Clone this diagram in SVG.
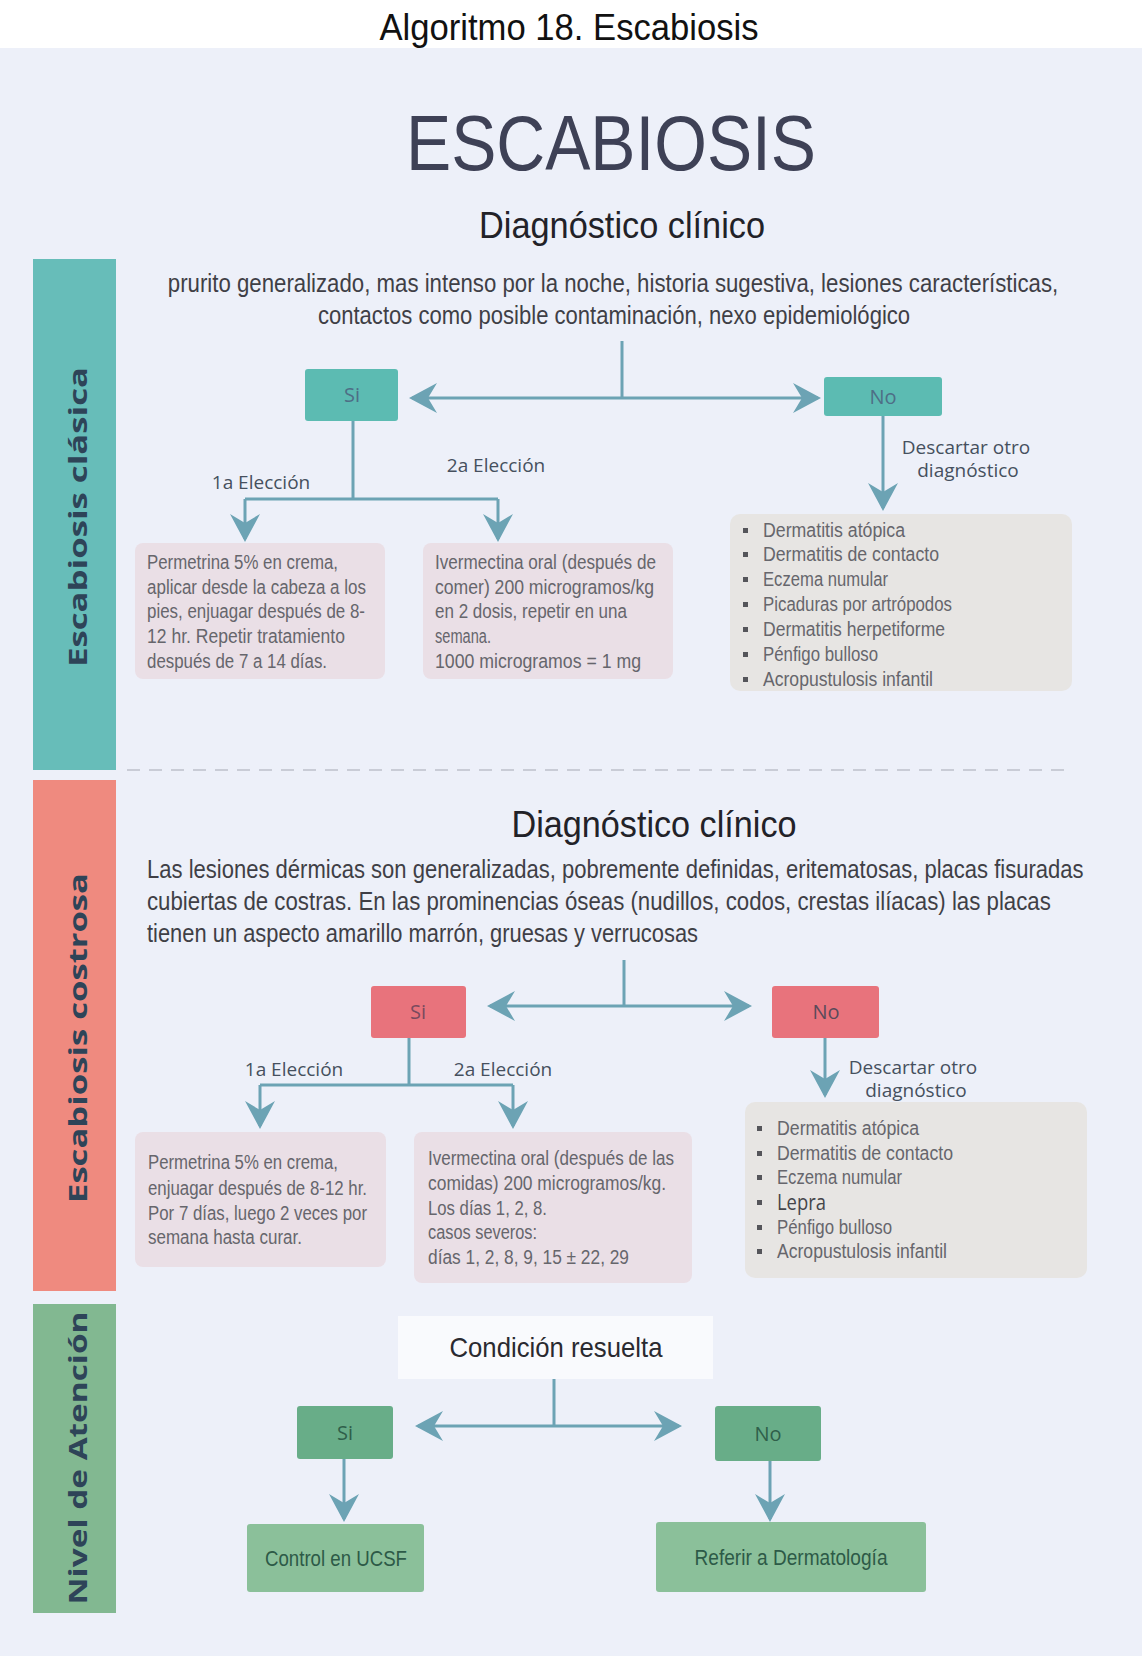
<svg xmlns="http://www.w3.org/2000/svg" width="1142" height="1663" viewBox="0 0 1142 1663">
<style>
.bg{fill:#EDF0F9}
.cond{font-family:"Liberation Sans",Arial,sans-serif}
.body{font-family:"Liberation Sans",Arial,sans-serif;font-size:20px;fill:#66666C}
.para{font-family:"Liberation Sans",Arial,sans-serif;font-size:25px;fill:#3F3F46}
.lbl{font-family:"Open Sans","Liberation Sans",sans-serif;font-size:19px;fill:#46505E;text-anchor:middle}
.side{font-family:"Open Sans","Liberation Sans",sans-serif;font-size:25px;font-weight:bold;fill:#2E4458;text-anchor:middle}
.yn{font-family:"Open Sans","Liberation Sans",sans-serif;font-size:20px;text-anchor:middle}
.conn{fill:none;stroke:#6CA3B4;stroke-width:3}
.tealbox{fill:#5CBBB2}
.pinkbox{fill:#E8737C}
.greenbox{fill:#68AD88}
.txtbox{fill:#EADFE6}
.graybox{fill:#E7E5E3}
.bul{fill:#55555A}
</style>
<defs>
<marker id="arr" viewBox="0 0 28 30" refX="25" refY="15" markerWidth="28" markerHeight="30" markerUnits="userSpaceOnUse" orient="auto-start-reverse">
<path d="M0,0 L28,15 L0,30 L9,15 Z" fill="#6CA3B4"/>
</marker>
</defs>
<rect x="0" y="0" width="1142" height="1663" fill="#FFFFFF"/>
<rect class="bg" x="0" y="48" width="1142" height="1608"/>
<text class="cond" x="569" y="40" font-size="36" fill="#111111" text-anchor="middle" textLength="379" lengthAdjust="spacingAndGlyphs">Algoritmo 18. Escabiosis</text>
<text class="cond" x="611" y="170" font-size="78" fill="#3E4156" text-anchor="middle" textLength="410" lengthAdjust="spacingAndGlyphs">ESCABIOSIS</text>

<g id="sidebar-clasica">
<rect x="33" y="259" width="83" height="511" fill="#67BDB9"/>
<text class="side" transform="translate(87,517) rotate(-90)" textLength="300" lengthAdjust="spacingAndGlyphs">Escabiosis clásica</text>
</g>
<g id="sidebar-costrosa">
<rect x="33" y="780" width="83" height="511" fill="#EF8A7F"/>
<text class="side" transform="translate(87,1038) rotate(-90)" textLength="330" lengthAdjust="spacingAndGlyphs">Escabiosis costrosa</text>
</g>
<g id="sidebar-nivel">
<rect x="33" y="1304" width="83" height="309" fill="#82B891"/>
<text class="side" transform="translate(87,1458) rotate(-90)" textLength="293" lengthAdjust="spacingAndGlyphs">Nivel de Atención</text>
</g>

<line x1="127" y1="770" x2="1065" y2="770" stroke="#C9CCD6" stroke-width="2" stroke-dasharray="13,9"/>

<g id="connectors">
<path class="conn" d="M622,341 V398"/>
<path class="conn" d="M622,398 H412" marker-end="url(#arr)"/>
<path class="conn" d="M622,398 H818" marker-end="url(#arr)"/>
<path class="conn" d="M353,421 V499 M245,499 H498"/>
<path class="conn" d="M245,499 V539" marker-end="url(#arr)"/>
<path class="conn" d="M498,499 V539" marker-end="url(#arr)"/>
<path class="conn" d="M883,416 V508" marker-end="url(#arr)"/>

<path class="conn" d="M624,960 V1006"/>
<path class="conn" d="M624,1006 H490" marker-end="url(#arr)"/>
<path class="conn" d="M624,1006 H749" marker-end="url(#arr)"/>
<path class="conn" d="M409,1038 V1085 M260,1085 H513"/>
<path class="conn" d="M260,1085 V1126" marker-end="url(#arr)"/>
<path class="conn" d="M513,1085 V1126" marker-end="url(#arr)"/>
<path class="conn" d="M825,1038 V1095" marker-end="url(#arr)"/>

<path class="conn" d="M554,1379 V1426"/>
<path class="conn" d="M554,1426 H418" marker-end="url(#arr)"/>
<path class="conn" d="M554,1426 H679" marker-end="url(#arr)"/>
<path class="conn" d="M344,1459 V1519" marker-end="url(#arr)"/>
<path class="conn" d="M770,1461 V1519" marker-end="url(#arr)"/>
</g>

<g id="diag1">
<text class="cond" x="622" y="238" font-size="37" fill="#222228" text-anchor="middle" textLength="286" lengthAdjust="spacingAndGlyphs">Diagnóstico clínico</text>
<text class="para" transform="translate(613,292) scale(0.84,1)" x="0" y="0" font-size="24" text-anchor="middle" textLength="1060" lengthAdjust="spacingAndGlyphs">prurito generalizado, mas intenso por la noche, historia sugestiva, lesiones características,</text>
<text class="para" transform="translate(614,324) scale(0.84,1)" x="0" y="0" font-size="24" text-anchor="middle" textLength="705" lengthAdjust="spacingAndGlyphs">contactos como posible contaminación, nexo epidemiológico</text>
</g>

<g id="si1">
<rect class="tealbox" x="305" y="369" width="93" height="52" rx="3"/>
<text class="yn" x="352" y="402" fill="#4E6E86">Si</text>
</g>
<g id="no1">
<rect class="tealbox" x="824" y="377" width="118" height="39" rx="3"/>
<text class="yn" x="883" y="404" fill="#4E6E86">No</text>
</g>
<text class="lbl" x="261" y="489">1a Elección</text>
<text class="lbl" x="496" y="472">2a Elección</text>
<text class="lbl" x="966" y="454" font-size="18">Descartar otro</text>
<text class="lbl" x="968" y="477" font-size="18">diagnóstico</text>

<g id="trat1a">
<rect class="txtbox" x="135" y="543" width="250" height="136" rx="8"/>
<text class="body" x="147" y="569" textLength="191" lengthAdjust="spacingAndGlyphs">Permetrina 5% en crema,</text>
<text class="body" x="147" y="594" textLength="219" lengthAdjust="spacingAndGlyphs">aplicar desde la cabeza a los</text>
<text class="body" x="147" y="618" textLength="218" lengthAdjust="spacingAndGlyphs">pies, enjuagar después de 8-</text>
<text class="body" x="147" y="643" textLength="198" lengthAdjust="spacingAndGlyphs">12 hr. Repetir tratamiento</text>
<text class="body" x="147" y="668" textLength="180" lengthAdjust="spacingAndGlyphs">después de 7 a 14 días.</text>
</g>
<g id="trat1b">
<rect class="txtbox" x="423" y="543" width="250" height="136" rx="8"/>
<text class="body" x="435" y="569" textLength="221" lengthAdjust="spacingAndGlyphs">Ivermectina oral (después de</text>
<text class="body" x="435" y="594" textLength="219" lengthAdjust="spacingAndGlyphs">comer) 200 microgramos/kg</text>
<text class="body" x="435" y="618" textLength="192" lengthAdjust="spacingAndGlyphs">en 2 dosis, repetir en una</text>
<text class="body" x="435" y="643" textLength="56" lengthAdjust="spacingAndGlyphs">semana.</text>
<text class="body" x="435" y="668" textLength="206" lengthAdjust="spacingAndGlyphs">1000 microgramos = 1 mg</text>
</g>
<g id="dd1">
<rect class="graybox" x="730" y="514" width="342" height="177" rx="10"/>
<rect class="bul" x="743" y="528" width="5" height="5"/>
<rect class="bul" x="743" y="552" width="5" height="5"/>
<rect class="bul" x="743" y="577" width="5" height="5"/>
<rect class="bul" x="743" y="602" width="5" height="5"/>
<rect class="bul" x="743" y="627" width="5" height="5"/>
<rect class="bul" x="743" y="652" width="5" height="5"/>
<rect class="bul" x="743" y="677" width="5" height="5"/>
<text class="body" x="763" y="537" textLength="142" lengthAdjust="spacingAndGlyphs">Dermatitis atópica</text>
<text class="body" x="763" y="561" textLength="176" lengthAdjust="spacingAndGlyphs">Dermatitis de contacto</text>
<text class="body" x="763" y="586" textLength="125" lengthAdjust="spacingAndGlyphs">Eczema numular</text>
<text class="body" x="763" y="611" textLength="189" lengthAdjust="spacingAndGlyphs">Picaduras por artrópodos</text>
<text class="body" x="763" y="636" textLength="182" lengthAdjust="spacingAndGlyphs">Dermatitis herpetiforme</text>
<text class="body" x="763" y="661" textLength="115" lengthAdjust="spacingAndGlyphs">Pénfigo bulloso</text>
<text class="body" x="763" y="686" textLength="170" lengthAdjust="spacingAndGlyphs">Acropustulosis infantil</text>
</g>

<g id="diag2">
<text class="cond" x="654" y="837" font-size="37" fill="#222228" text-anchor="middle" textLength="285" lengthAdjust="spacingAndGlyphs">Diagnóstico clínico</text>
<text class="para" transform="translate(147,878) scale(0.84,1)" x="0" y="0" textLength="1115" lengthAdjust="spacingAndGlyphs">Las lesiones dérmicas son generalizadas, pobremente definidas, eritematosas, placas fisuradas</text>
<text class="para" transform="translate(147,910) scale(0.84,1)" x="0" y="0" textLength="1076" lengthAdjust="spacingAndGlyphs">cubiertas de costras. En las prominencias óseas (nudillos, codos, crestas ilíacas) las placas</text>
<text class="para" transform="translate(147,942) scale(0.84,1)" x="0" y="0" textLength="656" lengthAdjust="spacingAndGlyphs">tienen un aspecto amarillo marrón, gruesas y verrucosas</text>
</g>

<g id="si2">
<rect class="pinkbox" x="371" y="986" width="95" height="52" rx="3"/>
<text class="yn" x="418" y="1019" fill="#7A4A5E">Si</text>
</g>
<g id="no2">
<rect class="pinkbox" x="772" y="986" width="107" height="52" rx="3"/>
<text class="yn" x="826" y="1019" fill="#5A4A5A">No</text>
</g>
<text class="lbl" x="294" y="1076">1a Elección</text>
<text class="lbl" x="503" y="1076">2a Elección</text>
<text class="lbl" x="913" y="1074" font-size="18">Descartar otro</text>
<text class="lbl" x="916" y="1097" font-size="18">diagnóstico</text>

<g id="trat2a">
<rect class="txtbox" x="135" y="1132" width="251" height="135" rx="8"/>
<text class="body" x="148" y="1169" textLength="190" lengthAdjust="spacingAndGlyphs">Permetrina 5% en crema,</text>
<text class="body" x="148" y="1195" textLength="219" lengthAdjust="spacingAndGlyphs">enjuagar después de 8-12 hr.</text>
<text class="body" x="148" y="1220" textLength="219" lengthAdjust="spacingAndGlyphs">Por 7 días, luego 2 veces por</text>
<text class="body" x="148" y="1244" textLength="154" lengthAdjust="spacingAndGlyphs">semana hasta curar.</text>
</g>
<g id="trat2b">
<rect class="txtbox" x="414" y="1132" width="278" height="151" rx="8"/>
<text class="body" x="428" y="1165" textLength="246" lengthAdjust="spacingAndGlyphs">Ivermectina oral (después de las</text>
<text class="body" x="428" y="1190" textLength="238" lengthAdjust="spacingAndGlyphs">comidas) 200 microgramos/kg.</text>
<text class="body" x="428" y="1215" textLength="119" lengthAdjust="spacingAndGlyphs">Los días 1, 2, 8.</text>
<text class="body" x="428" y="1239" textLength="109" lengthAdjust="spacingAndGlyphs">casos severos:</text>
<text class="body" x="428" y="1264" textLength="201" lengthAdjust="spacingAndGlyphs">días 1, 2, 8, 9, 15 ± 22, 29</text>
</g>
<g id="dd2">
<rect class="graybox" x="745" y="1102" width="342" height="176" rx="10"/>
<rect class="bul" x="757" y="1126" width="5" height="5"/>
<rect class="bul" x="757" y="1151" width="5" height="5"/>
<rect class="bul" x="757" y="1175" width="5" height="5"/>
<rect class="bul" x="757" y="1200" width="5" height="5"/>
<rect class="bul" x="757" y="1225" width="5" height="5"/>
<rect class="bul" x="757" y="1249" width="5" height="5"/>
<text class="body" x="777" y="1135" textLength="142" lengthAdjust="spacingAndGlyphs">Dermatitis atópica</text>
<text class="body" x="777" y="1160" textLength="176" lengthAdjust="spacingAndGlyphs">Dermatitis de contacto</text>
<text class="body" x="777" y="1184" textLength="125" lengthAdjust="spacingAndGlyphs">Eczema numular</text>
<text x="777" y="1210" font-family="Open Sans, Liberation Sans, sans-serif" font-size="22" fill="#45454A" textLength="49" lengthAdjust="spacingAndGlyphs">Lepra</text>
<text class="body" x="777" y="1234" textLength="115" lengthAdjust="spacingAndGlyphs">Pénfigo bulloso</text>
<text class="body" x="777" y="1258" textLength="170" lengthAdjust="spacingAndGlyphs">Acropustulosis infantil</text>
</g>

<g id="condicion">
<rect x="398" y="1316" width="315" height="63" fill="#F9FAFD"/>
<text class="cond" x="556" y="1357" font-size="28" fill="#2A2A30" text-anchor="middle" textLength="213" lengthAdjust="spacingAndGlyphs">Condición resuelta</text>
</g>
<g id="si3">
<rect class="greenbox" x="297" y="1406" width="96" height="53" rx="3"/>
<text class="yn" x="345" y="1440" fill="#2F5F4A">Si</text>
</g>
<g id="no3">
<rect class="greenbox" x="715" y="1406" width="106" height="55" rx="3"/>
<text class="yn" x="768" y="1441" fill="#2F5F4A">No</text>
</g>
<g id="control">
<rect x="247" y="1524" width="177" height="68" rx="3" fill="#8BC09A"/>
<text class="cond" x="336" y="1566" font-size="22" fill="#2D5A47" text-anchor="middle" textLength="142" lengthAdjust="spacingAndGlyphs">Control en UCSF</text>
</g>
<g id="referir">
<rect x="656" y="1522" width="270" height="70" rx="3" fill="#8BC09A"/>
<text class="cond" x="791" y="1565" font-size="22" fill="#2D5A47" text-anchor="middle" textLength="193" lengthAdjust="spacingAndGlyphs">Referir a Dermatología</text>
</g>
</svg>
